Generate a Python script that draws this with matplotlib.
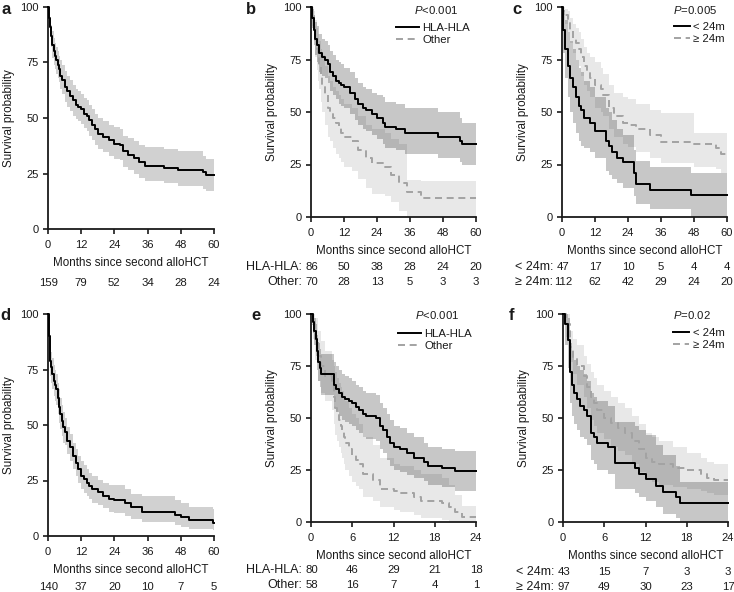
import matplotlib
matplotlib.use("Agg")
import matplotlib.pyplot as plt

plt.rcParams['font.family'] = ['Liberation Sans', 'DejaVu Sans']
plt.rcParams['font.size'] = 8
plt.rcParams['mathtext.fontset'] = 'custom'
plt.rcParams['mathtext.it'] = 'Liberation Sans:italic'
plt.rcParams['mathtext.rm'] = 'Liberation Sans'

W, H = 734, 592

# ---- panel a: all patients, 60 months
a_t = [0, 0.3, 0.6, 1, 1.5, 2, 2.5, 3, 3.5, 4, 4.5, 5, 6, 7, 8, 9, 10, 11, 12, 13,
       14, 15, 16, 17, 18, 20, 22, 24, 26, 27, 29, 31, 33, 35, 42, 47, 56, 57]
a_s = [100, 95, 91, 87, 83, 80, 78, 76, 74, 72, 69, 67, 64, 62, 60, 58, 56, 55, 54, 52,
       51, 49, 47, 45, 43, 41.5, 40, 38.5, 38, 35, 33.5, 32, 30, 28.5, 27.5, 26.5, 25.5, 24.5]
a_hi = [100, 98, 95, 92, 89, 86, 84, 82, 80, 78, 76, 74, 71, 69, 67, 65, 63, 62, 61, 59,
        58, 56, 54, 52, 50, 48.5, 47, 46, 45, 42, 41, 39.5, 38, 37, 36, 35, 33, 31.5]
a_lo = [100, 92, 87, 82, 77, 74, 72, 70, 68, 66, 63, 61, 57, 55, 53, 51, 49.5, 48.5, 47.5, 45.5,
        44, 42, 40, 38, 36, 34.5, 33, 31.5, 31, 28, 26.5, 25, 23, 21.5, 20.5, 19.5, 18, 17]
a_risk = [159, 79, 52, 34, 28, 24]

# ---- panel b: HLA-HLA vs Other, 60 months
b_hla_t = [0, 0.5, 1, 1.5, 2, 3, 4, 5, 6, 7, 8, 9, 10, 11, 12, 14, 16, 17, 19, 20,
           22, 24, 26, 27, 31, 34, 46, 54, 55]
b_hla_s = [100, 95, 89, 85, 82, 78, 76, 75, 73, 69, 67, 65, 64, 63, 62, 59, 56, 54, 52, 51,
           49, 47, 45, 43, 42, 40, 38, 36, 35]
b_hla_hi = [100, 99, 96, 93, 91, 87, 85, 84, 82, 79, 77, 75, 74, 73, 71, 69, 66, 64, 62, 61,
            59, 58, 57, 55, 54, 52, 50, 47, 45]
b_hla_lo = [100, 90, 82, 77, 74, 69, 67, 66, 64, 60, 58, 56, 54, 53, 52, 49, 46, 44, 42, 41,
            39, 37, 35, 33, 32, 30, 28, 26, 25]
b_oth_t = [0, 0.5, 1, 1.5, 2, 2.5, 3, 3.5, 4, 5, 6, 7, 8, 9, 10, 11, 12, 15, 17, 20,
           22, 27, 29, 32, 35, 40]
b_oth_s = [100, 96, 91, 85, 80, 76, 72, 67, 63, 58, 52, 50, 47, 45, 43, 40, 38, 36, 32, 28,
           25.5, 24, 20, 16, 12, 9]
b_oth_hi = [100, 100, 98, 94, 90, 87, 84, 80, 77, 72, 67, 65, 62, 60, 58, 56, 54, 52, 48, 44,
            42, 40, 37, 35, 17.5, 17]
b_oth_lo = [100, 91, 84, 76, 70, 65, 61, 55, 50, 44, 38, 36, 33, 30, 28, 26, 24, 22, 18, 14,
            11, 10, 7, 3, 0, 0]
b_risk_hla = [86, 50, 38, 28, 24, 20]
b_risk_oth = [70, 28, 13, 5, 3, 3]

# ---- panel c: < 24m vs >= 24m, 60 months
c_lt_t = [0, 0.5, 1, 2, 3, 4, 5, 6, 7, 8, 10, 12, 16, 17, 18, 20, 22, 26, 27, 32, 47]
c_lt_s = [100, 89, 80, 72, 66, 62, 57, 53, 51, 47, 45, 41, 36, 34, 31, 28, 26, 21, 15.5, 13, 10.5]
c_lt_hi = [100, 98, 94, 88, 84, 80, 75, 71, 69, 65, 62, 57, 52, 50, 46, 42, 39, 32, 26.5, 24, 21]
c_lt_lo = [100, 78, 66, 57, 50, 45, 40, 36, 34, 33, 31, 28, 22, 20, 18, 16, 14, 10, 6, 4, 0]
c_ge_t = [0, 0.5, 1, 2, 3, 4, 5, 6, 7, 8, 9, 10, 12, 14, 15, 17, 19, 22, 24, 27,
          32, 36, 48, 56, 58]
c_ge_s = [100, 98, 96, 93, 89, 85, 83, 80, 76, 72, 69, 66, 63, 61, 58, 52, 48, 45, 44, 42,
          39, 35.5, 35, 33, 30]
c_ge_hi = [100, 100, 99, 98, 95, 92, 90, 88, 85, 81, 78, 76, 74, 71, 68, 63, 59, 57, 56, 54,
           51, 49.5, 40, 40, 40]
c_ge_lo = [100, 96, 92, 88, 83, 78, 75, 72, 67, 63, 60, 57, 52, 50, 48, 42, 38, 35, 33.5, 31,
           28, 25.5, 24, 23, 21]
c_risk_lt = [47, 17, 10, 5, 4, 4]
c_risk_ge = [112, 62, 42, 29, 24, 20]

# ---- panel d: all patients, 60 months
d_t = [0, 0.2, 0.4, 0.6, 0.8, 1, 1.5, 2, 2.5, 3, 3.5, 4, 4.5, 5, 5.5, 6, 7, 8, 9, 10,
       11, 12, 13, 14, 15, 16, 18, 20, 22, 24, 28, 30, 34, 46, 48, 51, 59.5]
d_s = [100, 95, 90, 84, 79, 76, 73, 70, 68, 66, 62, 58, 55, 52, 49, 47, 43, 40, 36, 33,
       30, 27, 25.5, 24, 22.5, 21, 20, 18, 16.5, 16, 15, 13, 11, 9.5, 8.5, 7, 6]
d_hi = [100, 98, 95, 90, 86, 83, 80, 77, 75, 73, 69, 66, 62, 59, 56, 53, 49, 46, 42, 39,
        36, 34, 32, 30, 28.5, 27, 25, 24, 23, 23, 21, 19, 18, 16, 15, 13, 12]
d_lo = [100, 91, 85, 78, 72, 69, 66, 63, 61, 59, 55, 51, 48, 45, 42, 41, 37, 34, 30, 27,
        24, 21, 19.5, 18, 16.5, 15, 14, 12.5, 11, 10.5, 9, 7.5, 6.5, 5, 4, 3, 2.5]
d_risk = [140, 37, 20, 10, 7, 5]

# ---- panel e: HLA-HLA vs Other, 24 months
e_hla_t = [0, 0.3, 0.5, 0.7, 0.8, 1, 1.3, 1.5, 3.3, 3.6, 4, 4.5, 5, 5.5, 6, 6.5, 7, 7.5, 8, 9.5,
           10, 10.5, 11, 11.5, 12, 13, 14, 15, 16.5, 17, 19, 21]
e_hla_s = [100, 96, 92, 88, 82, 77, 74, 71, 66, 64, 62, 60, 59, 58, 57, 55.5, 54, 52, 51, 50,
           46, 44, 41, 38, 36, 35, 33, 31, 29, 27, 26, 24.6]
e_hla_hi = [100, 100, 98, 95, 90, 86, 83, 81, 77, 75, 73, 71, 70, 69, 68, 66, 65, 63, 62, 61,
            57, 55, 52, 49, 46, 45, 43, 41, 38, 36, 35, 34]
e_hla_lo = [100, 91, 85, 80, 73, 68, 65, 61, 55, 53, 51, 49, 48, 47, 46, 44, 43, 41, 40, 39,
            35, 33, 30, 27, 25, 24, 22.5, 21, 19.5, 18, 17, 15]
e_oth_t = [0, 0.3, 0.6, 1, 1.5, 2, 3, 3.3, 3.5, 3.8, 4, 4.3, 4.5, 4.8, 5, 5.5, 6, 6.5, 7, 7.5,
           9, 10, 12, 13, 15, 16, 19, 20, 21, 22]
e_oth_s = [100, 95, 88, 80, 75, 70, 66, 60, 55, 52, 49, 46, 44, 41, 38, 35, 32, 30, 28, 23,
           20, 16, 15, 14, 12, 10, 9, 7, 5, 2.5]
e_oth_hi = [100, 100, 98, 92, 87, 82, 78, 75, 72, 69, 67, 65, 63, 60, 58, 55, 52, 50, 47, 41,
            37, 31, 28, 27, 25, 23, 21, 18, 13, 7.5]
e_oth_lo = [100, 88, 78, 68, 62, 58, 54, 47, 42, 39, 36, 33, 31, 28, 25, 22, 19, 17.5, 16, 12,
            10, 7, 6, 5, 3.5, 2, 1, 0, 0, 0]
e_risk_hla = [80, 46, 29, 21, 18]
e_risk_oth = [58, 16, 7, 4, 1]

# ---- panel f: < 24m vs >= 24m, 24 months
f_lt_t = [0, 0.3, 0.7, 1, 1.3, 1.6, 2, 2.5, 3, 3.5, 4, 4.5, 5, 6.5, 7.6, 10.5, 11, 12, 13.5, 14.5,
          16.5, 17]
f_lt_s = [100, 95, 87.5, 72, 66, 62, 59, 56, 54, 51, 43, 41, 38, 36, 28.5, 26, 23, 20.5, 17.5, 14.5,
          12, 9]
f_lt_hi = [100, 100, 98, 86, 81, 78, 75, 73, 71, 68, 62, 60, 58, 56, 48, 46, 44, 42, 37, 32,
           27, 19]
f_lt_lo = [100, 85, 74, 57, 51, 47, 44, 41, 40, 37, 30, 28, 25, 23, 16, 14, 12, 10, 7, 4,
           2, 0]
f_ge_t = [0, 0.5, 1, 1.5, 2, 3, 3.5, 4, 4.5, 5, 6, 7, 8, 9, 10, 11, 12, 13, 14, 16,
          18, 20, 21, 22]
f_ge_s = [100, 95, 84, 79, 75, 70, 65, 60, 57, 54, 50, 47.5, 45, 43, 39, 35, 31, 29, 28, 26,
          25, 23, 21, 20]
f_ge_hi = [100, 100, 92, 88, 85, 80, 76, 72, 69, 66, 63, 60, 57, 55, 51, 47, 43, 41, 39, 36,
           33, 31, 29, 28]
f_ge_lo = [100, 89, 77, 71, 66, 60, 55, 49, 46, 43, 40, 36, 34, 32, 28, 24, 20, 19, 18, 17,
           16, 15, 14, 13]
f_risk_lt = [43, 15, 7, 3, 3]
f_risk_ge = [97, 49, 30, 23, 17]

DASH_GREY = "#a3a3a3"
TXT = "#1a1a1a"


def px_axes(fig, left, top, right, bottom):
    return fig.add_axes([left / W, 1 - bottom / H, (right - left) / W, (bottom - top) / H])


def style(ax, xmax, xstep):
    ax.set_xlim(0, xmax)
    ax.set_ylim(0, 100)
    ax.set_xticks(range(0, xmax + 1, xstep))
    ax.set_yticks([0, 25, 50, 75, 100])
    for side in ("top", "right"):
        ax.spines[side].set_visible(False)
    for side in ("left", "bottom"):
        ax.spines[side].set_linewidth(1.3)
        ax.spines[side].set_color(TXT)
    ax.tick_params(length=3.5, width=1.2, labelsize=8, color=TXT, labelcolor=TXT, pad=3)
    ax.tick_params(axis="x", pad=4.5)
    ax.set_xlabel("Months since second alloHCT", color=TXT, labelpad=5, fontsize=8.4)
    ax.set_ylabel("Survival probability", color=TXT, labelpad=4, fontsize=8.4)


def band(ax, t, lo, hi, xmax, alpha):
    ax.fill_between(t + [xmax], lo + [lo[-1]], hi + [hi[-1]], step="post",
                    color="black", alpha=alpha, linewidth=0)


def curve(ax, t, s, xmax, dashed=False, label=None):
    if dashed:
        ax.step(t + [xmax], s + [s[-1]], where="post", color=DASH_GREY, lw=1.4,
                dashes=(3.6, 2.4), label=label, clip_on=False, zorder=3)
    else:
        ax.step(t + [xmax], s + [s[-1]], where="post", color="black", lw=1.4,
                label=label, clip_on=False, zorder=4)


def risk_row(ax, ticks, counts, offset, label=None):
    for x, n in zip(ticks, counts):
        ax.annotate(str(n), xy=(x, 0), xycoords=("data", "axes fraction"),
                    xytext=(1 if x == 0 else 0, -offset), textcoords="offset pixels",
                    ha="center", va="center", fontsize=8.2, color=TXT, annotation_clip=False)
    if label:
        ax.annotate(label, xy=(0, 0), xycoords=("data", "axes fraction"),
                    xytext=(-9, -offset), textcoords="offset pixels",
                    ha="right", va="center", fontsize=9, color=TXT, annotation_clip=False)


def legend(ax, ptext, px, py, x, y, hl):
    ax.text(px, py, ptext, transform=ax.transAxes, ha="center", va="center",
            fontsize=8.2, color=TXT)
    leg = ax.legend(loc="upper right", bbox_to_anchor=(x, y), frameon=False, fontsize=8.2,
                    handlelength=hl, handletextpad=0.3, labelspacing=0.18,
                    borderpad=0, borderaxespad=0)
    for txt in leg.get_texts():
        txt.set_color(TXT)


fig = plt.figure(figsize=(W / 100, H / 100), dpi=100)

# a
ax = px_axes(fig, 48, 7, 214, 229)
band(ax, a_t, a_lo, a_hi, 60, 0.18)
curve(ax, a_t, a_s, 60)
style(ax, 60, 12)
risk_row(ax, range(0, 61, 12), a_risk, 54)

# b
ax = px_axes(fig, 311, 7, 476, 217)
band(ax, b_hla_t, b_hla_lo, b_hla_hi, 60, 0.22)
band(ax, b_oth_t, b_oth_lo, b_oth_hi, 60, 0.09)
curve(ax, b_hla_t, b_hla_s, 60, label="HLA-HLA")
curve(ax, b_oth_t, b_oth_s, 60, dashed=True, label="Other")
style(ax, 60, 12)
legend(ax, r"$P$<0.001", 0.758, 0.986, 0.965, 0.922, 2.0)
risk_row(ax, range(0, 61, 12), b_risk_hla, 50, "HLA-HLA:")
risk_row(ax, range(0, 61, 12), b_risk_oth, 65, "Other:")

# c
ax = px_axes(fig, 562, 7, 727, 217)
band(ax, c_lt_t, c_lt_lo, c_lt_hi, 60, 0.22)
band(ax, c_ge_t, c_ge_lo, c_ge_hi, 60, 0.09)
curve(ax, c_lt_t, c_lt_s, 60, label="< 24m")
curve(ax, c_ge_t, c_ge_s, 60, dashed=True, label="\u2265 24m")
style(ax, 60, 12)
legend(ax, r"$P$=0.005", 0.806, 0.986, 0.99, 0.928, 1.4)
risk_row(ax, range(0, 61, 12), c_risk_lt, 50, "< 24m:")
risk_row(ax, range(0, 61, 12), c_risk_ge, 65, "\u2265 24m:")

# d
ax = px_axes(fig, 48, 314, 214, 536)
band(ax, d_t, d_lo, d_hi, 60, 0.18)
curve(ax, d_t, d_s, 60)
style(ax, 60, 12)
risk_row(ax, range(0, 61, 12), d_risk, 51)

# e
ax = px_axes(fig, 311, 314, 476, 522)
band(ax, e_hla_t, e_hla_lo, e_hla_hi, 24, 0.22)
band(ax, e_oth_t, e_oth_lo, e_oth_hi, 24, 0.09)
curve(ax, e_hla_t, e_hla_s, 24, label="HLA-HLA")
curve(ax, e_oth_t, e_oth_s, 24, dashed=True, label="Other")
style(ax, 24, 6)
legend(ax, r"$P$<0.001", 0.764, 0.995, 0.976, 0.93, 2.0)
risk_row(ax, range(0, 25, 6), e_risk_hla, 48, "HLA-HLA:")
risk_row(ax, range(0, 25, 6), e_risk_oth, 63, "Other:")

# f
ax = px_axes(fig, 563, 314, 728, 522)
band(ax, f_lt_t, f_lt_lo, f_lt_hi, 24, 0.22)
band(ax, f_ge_t, f_ge_lo, f_ge_hi, 24, 0.09)
curve(ax, f_lt_t, f_lt_s, 24, label="< 24m")
curve(ax, f_ge_t, f_ge_s, 24, dashed=True, label="\u2265 24m")
style(ax, 24, 6)
legend(ax, r"$P$=0.02", 0.78, 0.995, 0.98, 0.931, 1.4)
risk_row(ax, range(0, 25, 6), f_risk_lt, 50, "< 24m:")
risk_row(ax, range(0, 25, 6), f_risk_ge, 65, "\u2265 24m:")

# panel letters
for letter, x, y in [("a", 1, 9), ("b", 246, 9), ("c", 512, 9),
                     ("d", 0, 316), ("e", 251, 316), ("f", 509, 316)]:
    fig.text(x / W, 1 - y / H, letter, fontsize=12, fontweight="bold",
             ha="left", va="center", color=TXT)

fig.savefig("out.png", dpi=100)
